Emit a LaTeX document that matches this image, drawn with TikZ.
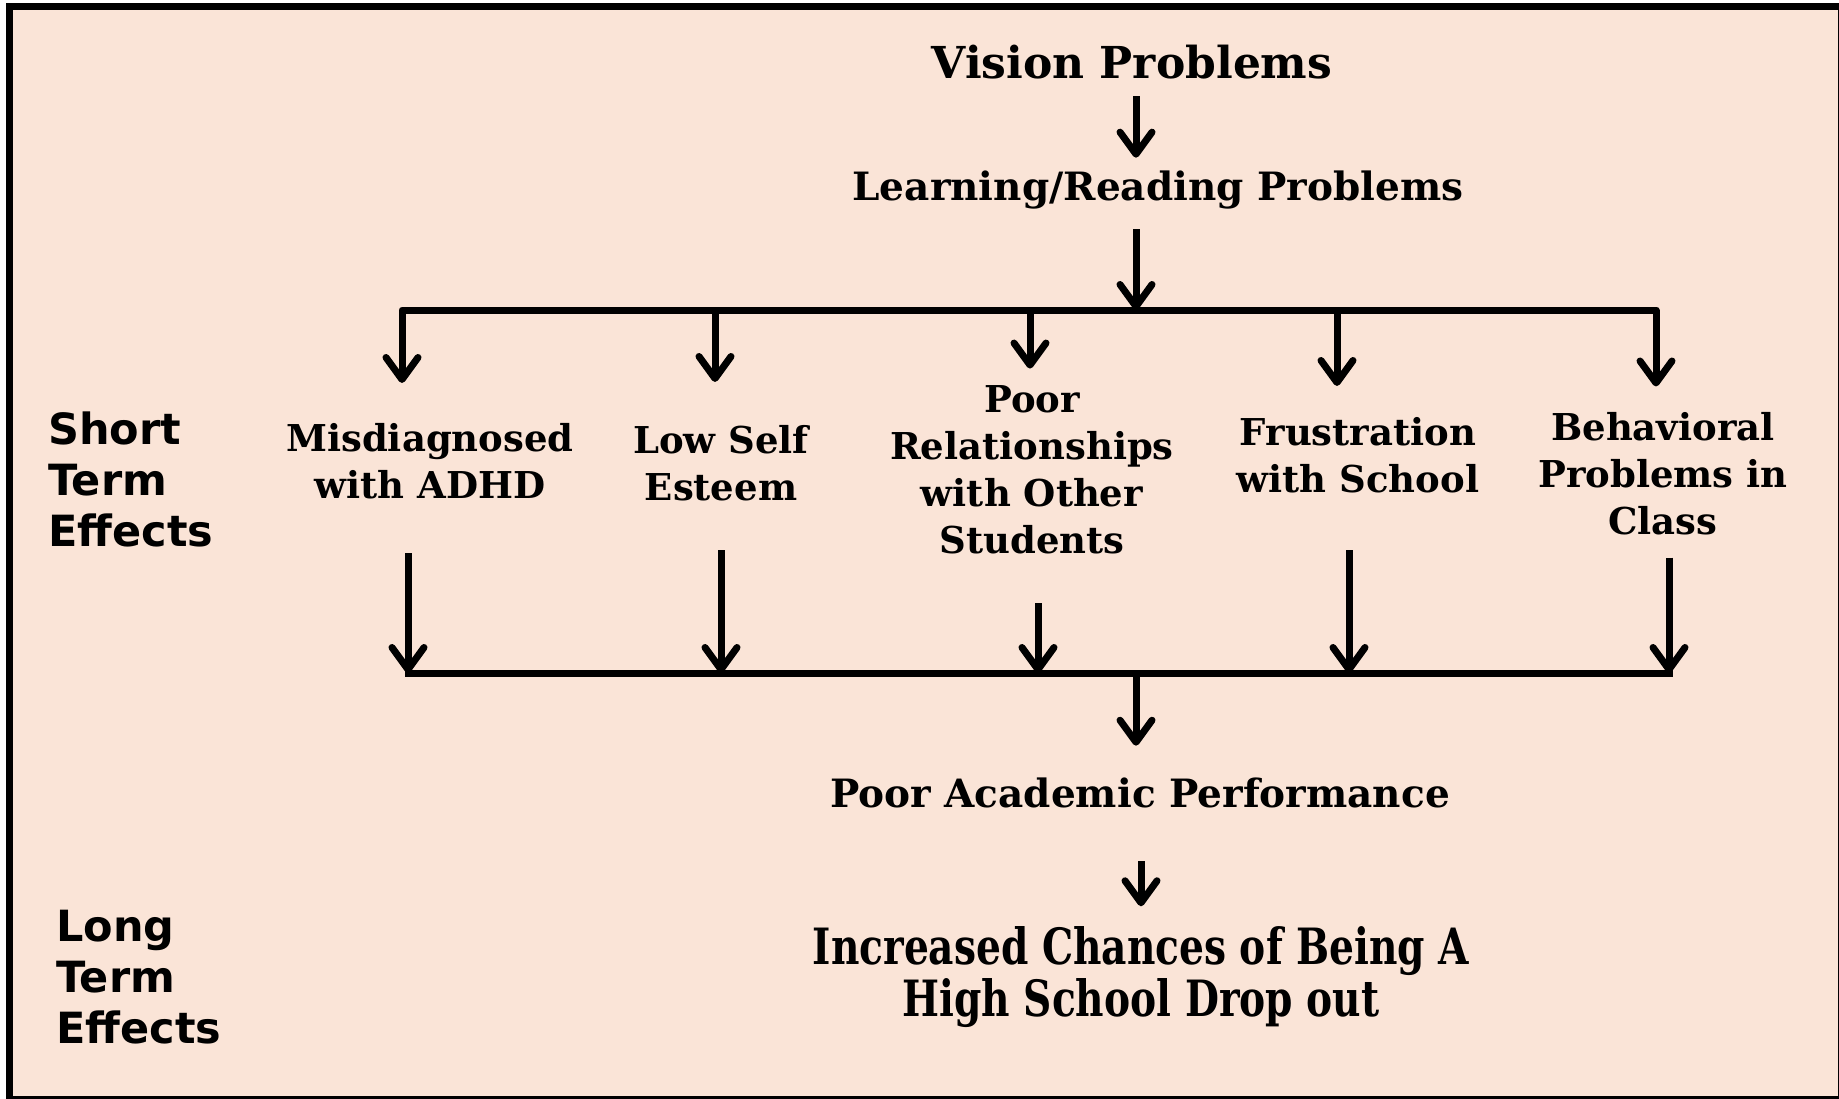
\documentclass[tikz,border=0pt]{standalone}
\usepackage{fontspec}
\setmainfont{DejaVu Serif}
\newfontfamily\sidefont{DejaVu Sans}
\newfontfamily\condfont{DejaVu Serif Condensed}[FakeStretch = 0.87]
\usepackage{tikz}
\usetikzlibrary{positioning,calc,arrows.meta}

\definecolor{peach}{RGB}{250,228,215}

\tikzset{
	arr/.style = {line width = 7pt, -{Straight Barb[length = 22pt, width = 32pt, round]}},
	barline/.style = {line width = 7pt, line cap = rect},
	title/.style = {inner sep = 0, font = \fontsize{44}{50}\selectfont\bfseries},
	head/.style = {inner sep = 0, font = \fontsize{39}{50}\selectfont\bfseries},
	effect/.style = {inner sep = 0, align = center, font = \fontsize{37}{47}\selectfont\bfseries},
	side/.style = {inner sep = 0, anchor = west, align = left, font = \fontsize{43}{51}\selectfont\sidefont\bfseries},
}

\begin{document}
\begin{tikzpicture}[x = 1pt, y = -1pt]
	\useasboundingbox (0,0) rectangle (1839,1098);
	\begin{scope}
	    \clip (0,0) rectangle (1839,1098);
	    \draw [line width = 7pt, fill = peach] (9.5,6.5) rectangle (1841,1099);
	\end{scope}

	\node[title] (vision) at (1132,62) {Vision Problems};
	\node[head] (learn) at (1158,190) {Learning/Reading Problems};

	\node[side] (short) at (48,479) {Short\\Term\\Effects};
	\node[side] (long) at (56,977) {Long\\Term\\Effects};

	\node[effect] (adhd) at (430,461) {Misdiagnosed\\with ADHD};
	\node[effect] (esteem) at (721,463) {Low Self\\Esteem};
	\node[effect] (relat) at (1032,470) {Poor\\Relationships\\with Other\\Students};
	\node[effect] (frust) at (1358,455) {Frustration\\with School};
	\node[effect] (behav) at (1663,474) {Behavioral\\Problems in\\Class};

	\node[head] (poor) at (1140,793) {Poor Academic Performance};
	\node[inner sep = 0, align = center, font = \fontsize{50}{52}\selectfont\condfont\bfseries] (drop) at (1141,977) {Increased Chances of Being A\\High School Drop out};

	\coordinate (tb) at (1136,310);
	\coordinate (bb) at (1136,673);

	\draw [arr, shorten < = 17pt, shorten > = 13pt] (vision.south -| tb) -- (learn.north -| tb);
	\draw [arr, shorten < = 20pt] (learn.south -| tb) -- (tb);

	% fan out to the short term effects
	\draw [arr, shorten > = 40pt, line join = round] (tb) -| (adhd.north -| 402,0);
	\draw [arr, shorten > = 26pt, line join = round] (tb) -| (behav.north -| 1656,0);
	\foreach \n/\x/\s in {esteem/715/43pt, relat/1030/17pt, frust/1337/31pt}
	    \draw [arr, shorten > = \s] (tb -| \x,0) -- (\n.north -| \x,0);

	% and back together
	\draw [barline] (bb -| 408,0) -- (bb -| 1669,0);
	\foreach \n/\x/\s in {adhd/408/54pt, esteem/721/49pt, relat/1038/49pt, frust/1349/57pt, behav/1669/22pt}
	    \draw [arr, shorten < = \s] (\n.south -| \x,0) -- (bb -| \x,0);

	\draw [arr, shorten > = 32pt] (bb) -- (poor.north -| bb);
	\draw [arr, shorten < = 53pt, shorten > = 20pt] (poor.south -| 1141,0) -- (drop.north -| 1141,0);

\end{tikzpicture}
\end{document}
